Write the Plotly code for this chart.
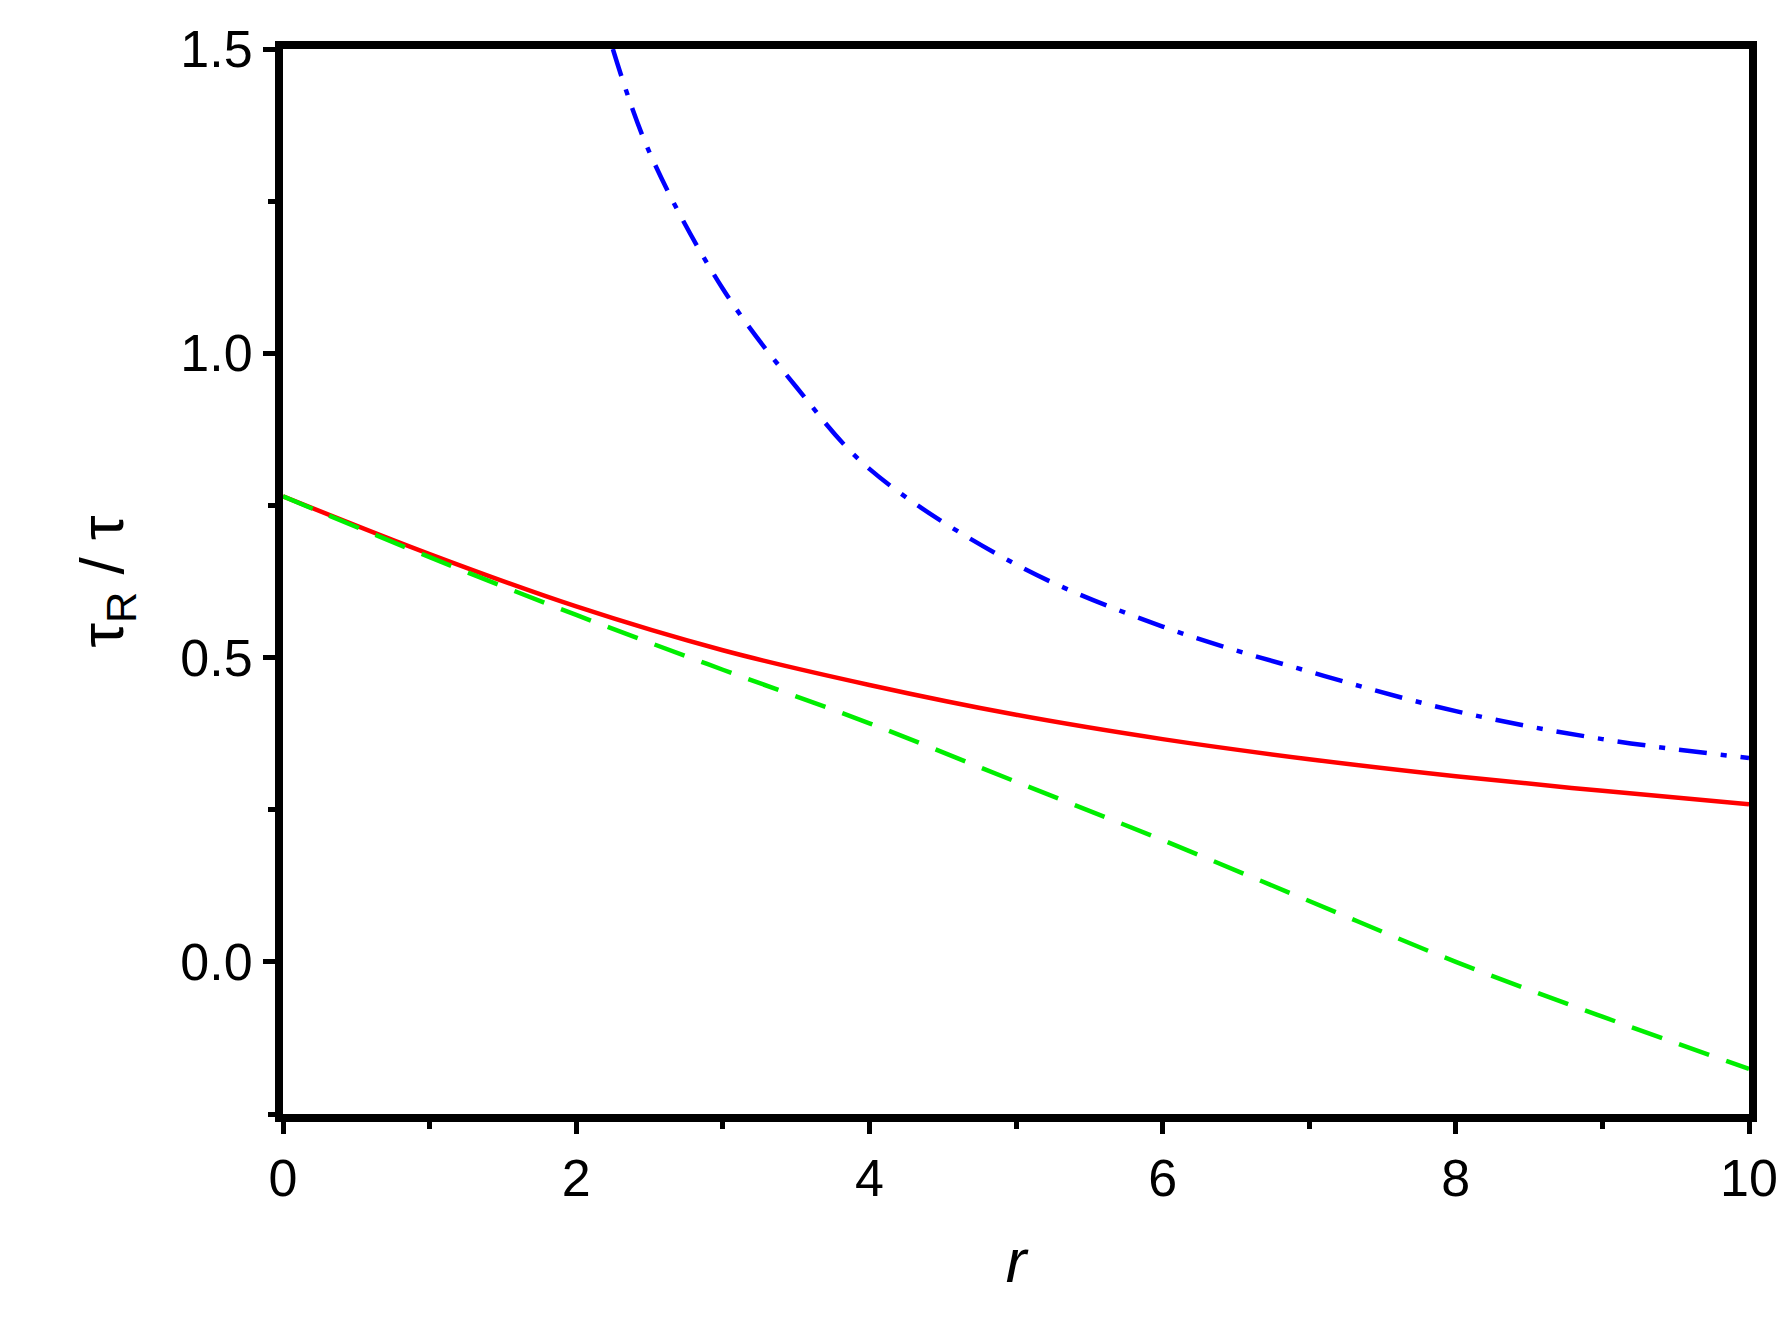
import plotly.graph_objects as go

r_red = [0, 1, 2, 3, 4, 5, 6, 7, 8, 9, 10]
tau_red = [0.765, 0.67, 0.584, 0.512, 0.455, 0.406, 0.366, 0.333, 0.305, 0.281, 0.259]
r_green = [0, 1, 2, 3, 4, 5, 6, 7, 8, 9, 10]
tau_green = [0.765, 0.665, 0.57, 0.48, 0.392, 0.296, 0.2, 0.1, 0.0, -0.09, -0.176]
r_blue = [2.25, 2.5, 3, 3.5, 4, 5, 6, 7, 8, 9, 10]
tau_blue = [1.5, 1.33, 1.106, 0.945, 0.81, 0.653, 0.551, 0.477, 0.412, 0.366, 0.335]

fig = go.Figure()
fig.add_trace(go.Scatter(x=r_blue, y=tau_blue, mode="lines", line=dict(color="#0000ff", width=4.5, dash="28px,14px,6px,14px", shape="spline")))
fig.add_trace(go.Scatter(x=r_red, y=tau_red, mode="lines", line=dict(color="#ff0000", width=4.5, shape="spline")))
fig.add_trace(go.Scatter(x=r_green, y=tau_green, mode="lines", line=dict(color="#00ee00", width=4.5, dash="32px,18px", shape="spline")))

axis_common = dict(showline=True, linecolor="black", linewidth=8, mirror=True, showgrid=False, zeroline=False,
                   ticks="outside", ticklen=12, tickwidth=5, tickcolor="black",
                   tickfont=dict(family="Arial, Liberation Sans", size=52, color="black"))
fig.update_xaxes(range=[0, 10], dtick=2, minor=dict(dtick=1, ticks="outside", ticklen=7, tickwidth=5, tickcolor="black"),
                 title=dict(text="<i>r</i>", font=dict(family="Arial, Liberation Sans", size=62, color="black"), standoff=35), **axis_common)
fig.update_yaxes(range=[-0.25, 1.5], tickvals=[0, 0.5, 1.0, 1.5], ticktext=["0.0", "0.5", "1.0", "1.5"],
                 minor=dict(dtick=0.25, tick0=0, ticks="outside", ticklen=7, tickwidth=5, tickcolor="black"),
                 title=dict(text="τ<sub>R</sub> / τ", font=dict(family="Arial, Liberation Sans", size=62, color="black"), standoff=40), **axis_common)
fig.update_layout(width=1792, height=1325, showlegend=False, plot_bgcolor="white", paper_bgcolor="white",
                  margin=dict(l=275, r=51, t=31, b=219))
fig.write_html("out.html")
